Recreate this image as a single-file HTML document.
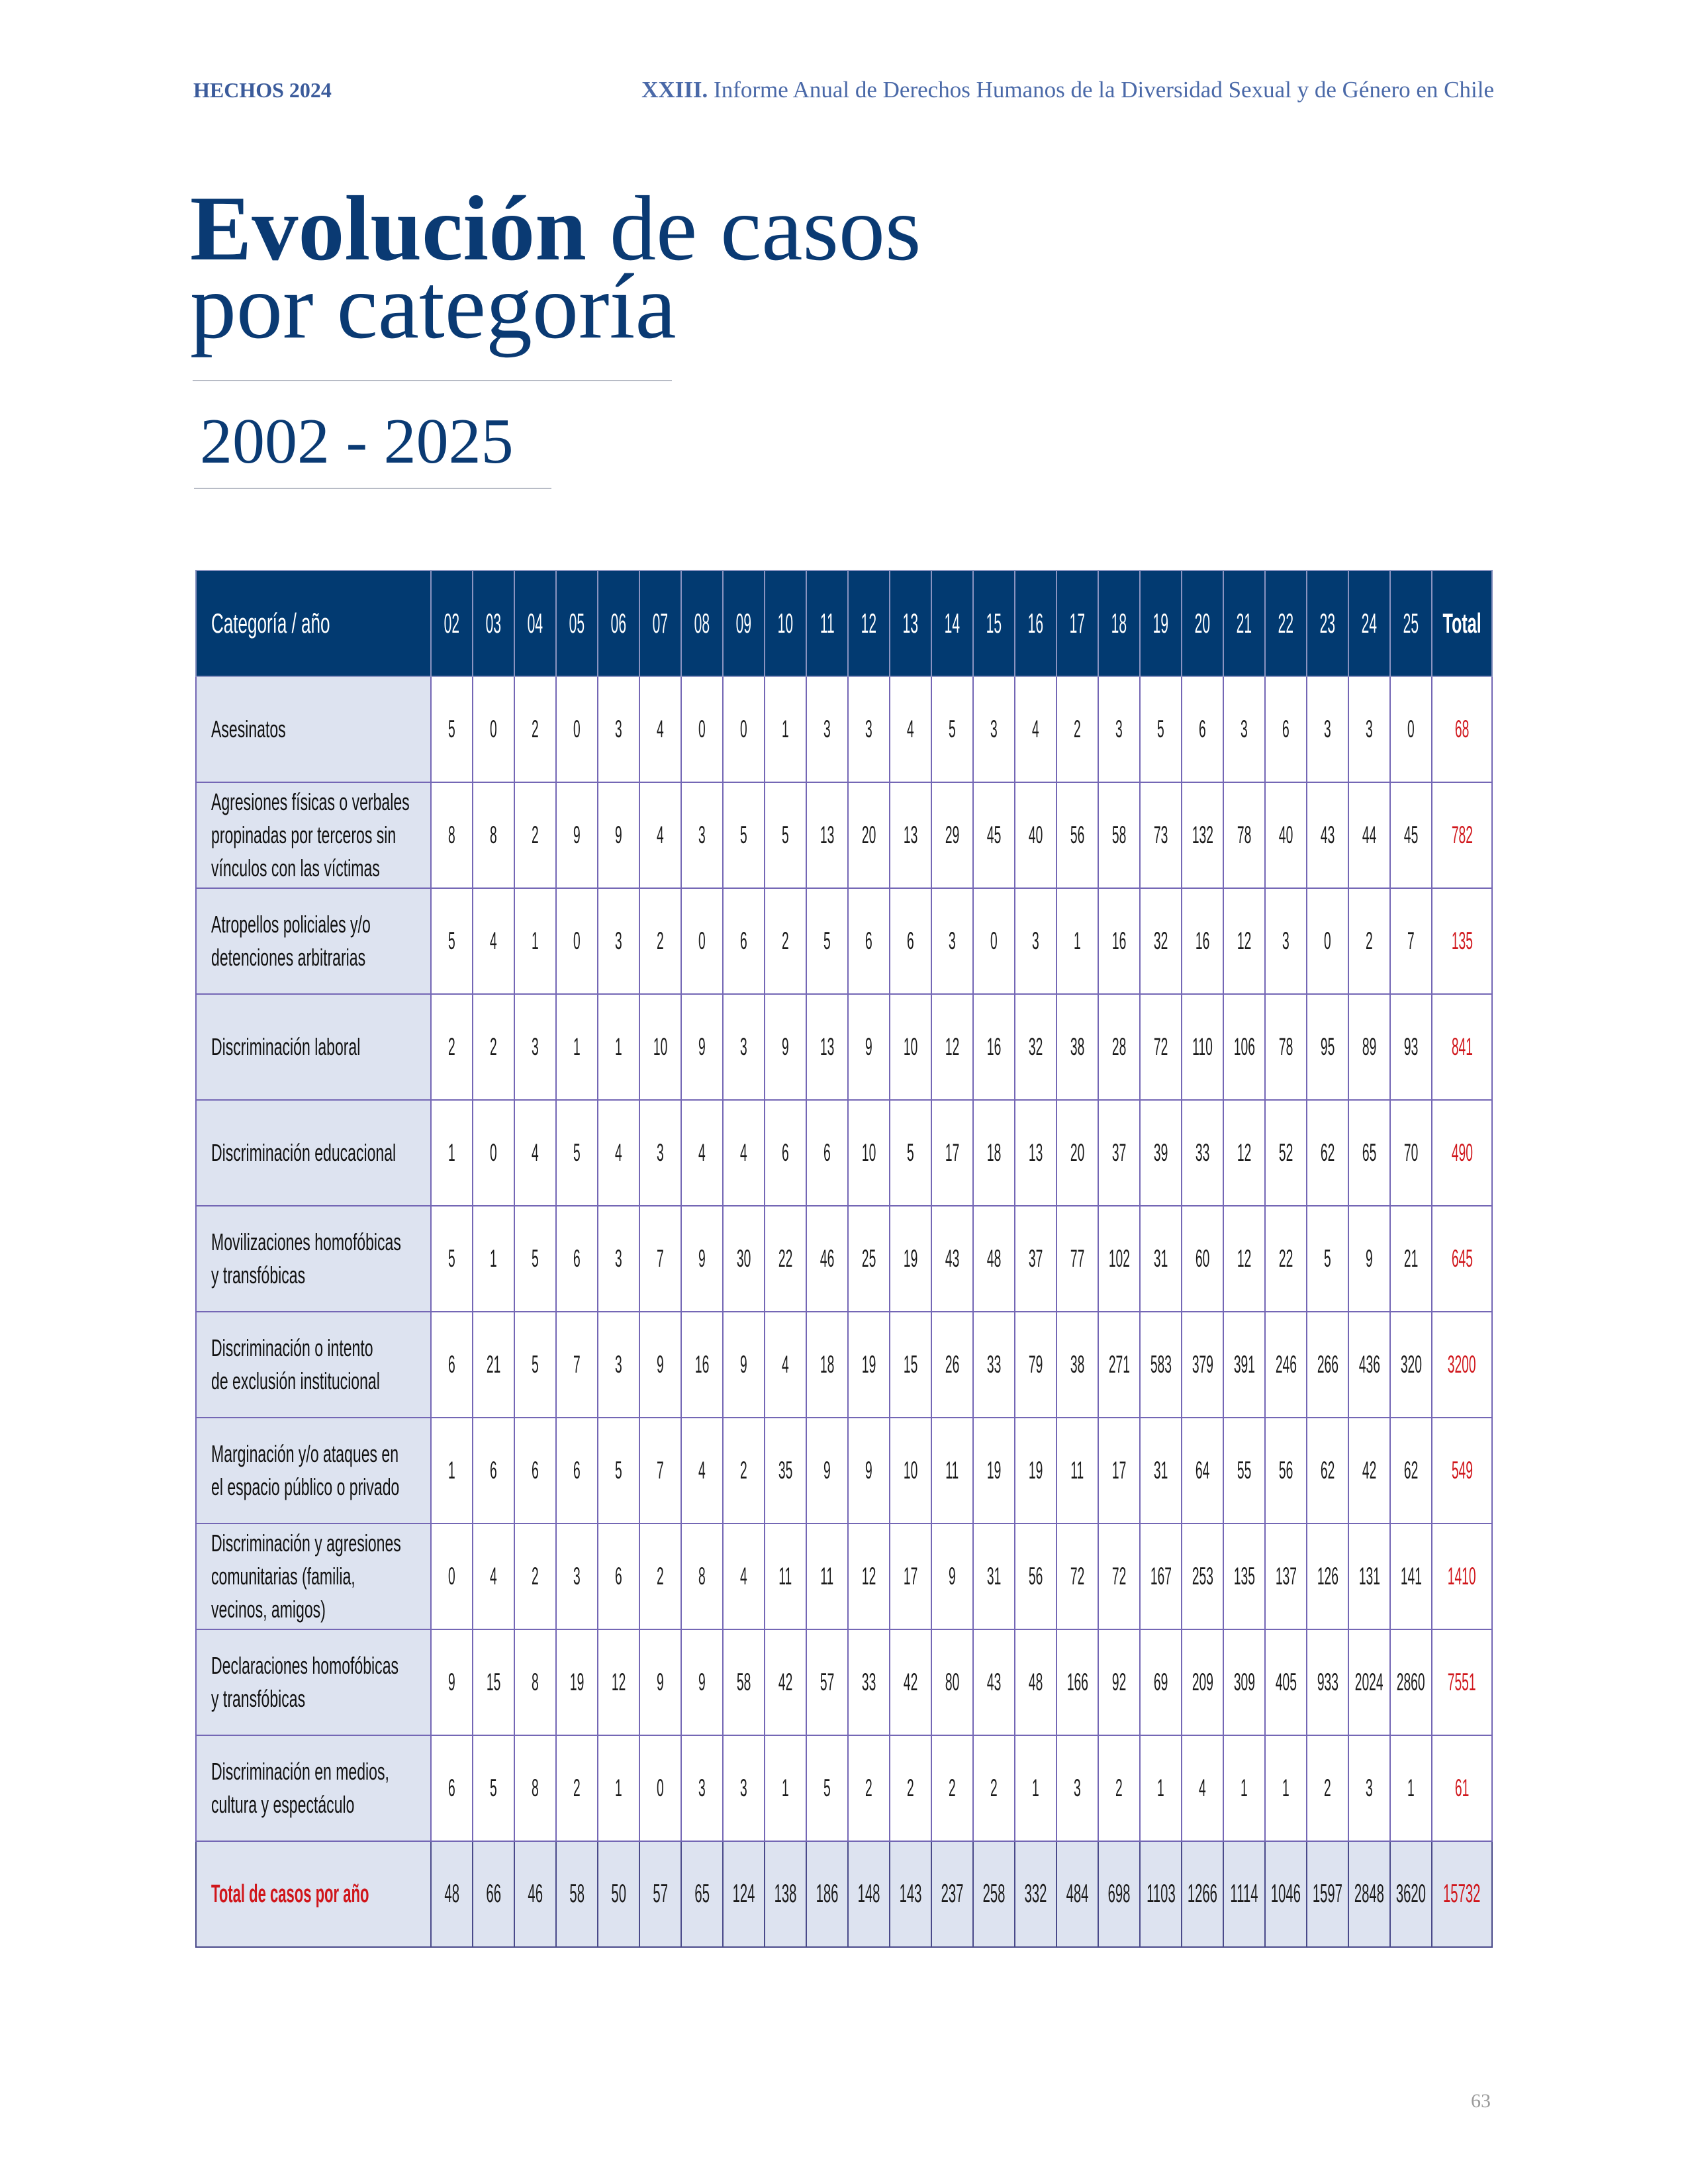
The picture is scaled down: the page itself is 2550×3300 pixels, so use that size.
<!DOCTYPE html>
<html><head><meta charset="utf-8"><style>
html,body{margin:0;padding:0;background:#fff;}
body{width:2550px;height:3300px;position:relative;overflow:hidden;font-family:"Liberation Sans",sans-serif;}
.hd1{position:absolute;left:292px;top:118px;font:bold 32px "Liberation Serif",serif;color:#3b5b9b;}
.hd2{position:absolute;right:293px;top:116px;font:35px "Liberation Serif",serif;color:#4a69a8;white-space:nowrap;}
.hd2 b{font-weight:bold}
.t1{position:absolute;left:287px;top:287px;font:140px/118px "Liberation Serif",serif;color:#0a3a73;white-space:nowrap;}
.t1 b{font-weight:bold}
.rule{position:absolute;height:2px;background:#b8bcc6;}
.yr{position:absolute;left:302px;top:611px;font:98px "Liberation Serif",serif;color:#0a3a73;}
.pg{position:absolute;left:2222px;top:3158px;font:30px "Liberation Serif",serif;color:#9a9a9a;}
table{position:absolute;left:295px;top:861px;border-collapse:collapse;table-layout:fixed;width:1958px;}
td{border:2px solid #7467b5;padding:0;text-align:center;vertical-align:middle;height:158px;overflow:visible;white-space:nowrap;font-size:37px;color:#1a1a1a;}
td i{font-style:normal;display:inline-block;transform:scaleX(0.52);margin:0 -40px;}
tr.h td{background:#023a71;color:#fff;height:158px;border-color:#8a93c0;font-size:42px;}
tr.h td i{transform:scaleX(0.5);}
td.c{background:#dde3f0;text-align:left;padding-left:22px;font-size:36px;line-height:50px;color:#111;}
td.c i{transform:scaleX(0.64);transform-origin:left center;margin:0;}
tr.h td.c{background:#023a71;color:#fff;font-size:42px;}
tr.h td.c i{transform:scaleX(0.62);}
td.tt{color:#d0161b;}
tr.h td.tt{color:#fff;font-weight:bold;}
tr.h td.tt i{transform:scaleX(0.6);}
tr.f td{background:#dde3f0;border-color:#4a4a8a;font-size:39px;}
tr.f td.c{color:#d0161b;font-weight:bold;font-size:38px;}
tr.f td.c i{transform:scaleX(0.58);}
</style></head><body>
<div class="hd1">HECHOS 2024</div>
<div class="hd2"><b>XXIII.</b> Informe Anual de Derechos Humanos de la Diversidad Sexual y de Género en Chile</div>
<div class="t1"><b>Evolución</b> de casos<br>por categoría</div>
<div class="rule" style="left:291px;top:574px;width:724px"></div>
<div class="yr">2002 - 2025</div>
<div class="rule" style="left:293px;top:737px;width:540px"></div>
<table>
<colgroup><col style="width:355px"><col span="24" style="width:63px"><col style="width:91px"></colgroup>
<tr class="h"><td class="c"><i>Categoría / año</i></td><td><i>02</i></td><td><i>03</i></td><td><i>04</i></td><td><i>05</i></td><td><i>06</i></td><td><i>07</i></td><td><i>08</i></td><td><i>09</i></td><td><i>10</i></td><td><i>11</i></td><td><i>12</i></td><td><i>13</i></td><td><i>14</i></td><td><i>15</i></td><td><i>16</i></td><td><i>17</i></td><td><i>18</i></td><td><i>19</i></td><td><i>20</i></td><td><i>21</i></td><td><i>22</i></td><td><i>23</i></td><td><i>24</i></td><td><i>25</i></td><td class="tt"><i>Total</i></td></tr>
<tr><td class="c"><i>Asesinatos</i></td><td><i>5</i></td><td><i>0</i></td><td><i>2</i></td><td><i>0</i></td><td><i>3</i></td><td><i>4</i></td><td><i>0</i></td><td><i>0</i></td><td><i>1</i></td><td><i>3</i></td><td><i>3</i></td><td><i>4</i></td><td><i>5</i></td><td><i>3</i></td><td><i>4</i></td><td><i>2</i></td><td><i>3</i></td><td><i>5</i></td><td><i>6</i></td><td><i>3</i></td><td><i>6</i></td><td><i>3</i></td><td><i>3</i></td><td><i>0</i></td><td class="tt"><i>68</i></td></tr>
<tr><td class="c"><i>Agresiones físicas o verbales<br>propinadas por terceros sin<br>vínculos con las víctimas</i></td><td><i>8</i></td><td><i>8</i></td><td><i>2</i></td><td><i>9</i></td><td><i>9</i></td><td><i>4</i></td><td><i>3</i></td><td><i>5</i></td><td><i>5</i></td><td><i>13</i></td><td><i>20</i></td><td><i>13</i></td><td><i>29</i></td><td><i>45</i></td><td><i>40</i></td><td><i>56</i></td><td><i>58</i></td><td><i>73</i></td><td><i>132</i></td><td><i>78</i></td><td><i>40</i></td><td><i>43</i></td><td><i>44</i></td><td><i>45</i></td><td class="tt"><i>782</i></td></tr>
<tr><td class="c"><i>Atropellos policiales y/o<br>detenciones arbitrarias</i></td><td><i>5</i></td><td><i>4</i></td><td><i>1</i></td><td><i>0</i></td><td><i>3</i></td><td><i>2</i></td><td><i>0</i></td><td><i>6</i></td><td><i>2</i></td><td><i>5</i></td><td><i>6</i></td><td><i>6</i></td><td><i>3</i></td><td><i>0</i></td><td><i>3</i></td><td><i>1</i></td><td><i>16</i></td><td><i>32</i></td><td><i>16</i></td><td><i>12</i></td><td><i>3</i></td><td><i>0</i></td><td><i>2</i></td><td><i>7</i></td><td class="tt"><i>135</i></td></tr>
<tr><td class="c"><i>Discriminación laboral</i></td><td><i>2</i></td><td><i>2</i></td><td><i>3</i></td><td><i>1</i></td><td><i>1</i></td><td><i>10</i></td><td><i>9</i></td><td><i>3</i></td><td><i>9</i></td><td><i>13</i></td><td><i>9</i></td><td><i>10</i></td><td><i>12</i></td><td><i>16</i></td><td><i>32</i></td><td><i>38</i></td><td><i>28</i></td><td><i>72</i></td><td><i>110</i></td><td><i>106</i></td><td><i>78</i></td><td><i>95</i></td><td><i>89</i></td><td><i>93</i></td><td class="tt"><i>841</i></td></tr>
<tr><td class="c"><i>Discriminación educacional</i></td><td><i>1</i></td><td><i>0</i></td><td><i>4</i></td><td><i>5</i></td><td><i>4</i></td><td><i>3</i></td><td><i>4</i></td><td><i>4</i></td><td><i>6</i></td><td><i>6</i></td><td><i>10</i></td><td><i>5</i></td><td><i>17</i></td><td><i>18</i></td><td><i>13</i></td><td><i>20</i></td><td><i>37</i></td><td><i>39</i></td><td><i>33</i></td><td><i>12</i></td><td><i>52</i></td><td><i>62</i></td><td><i>65</i></td><td><i>70</i></td><td class="tt"><i>490</i></td></tr>
<tr><td class="c"><i>Movilizaciones homofóbicas<br>y transfóbicas</i></td><td><i>5</i></td><td><i>1</i></td><td><i>5</i></td><td><i>6</i></td><td><i>3</i></td><td><i>7</i></td><td><i>9</i></td><td><i>30</i></td><td><i>22</i></td><td><i>46</i></td><td><i>25</i></td><td><i>19</i></td><td><i>43</i></td><td><i>48</i></td><td><i>37</i></td><td><i>77</i></td><td><i>102</i></td><td><i>31</i></td><td><i>60</i></td><td><i>12</i></td><td><i>22</i></td><td><i>5</i></td><td><i>9</i></td><td><i>21</i></td><td class="tt"><i>645</i></td></tr>
<tr><td class="c"><i>Discriminación o intento<br>de exclusión institucional</i></td><td><i>6</i></td><td><i>21</i></td><td><i>5</i></td><td><i>7</i></td><td><i>3</i></td><td><i>9</i></td><td><i>16</i></td><td><i>9</i></td><td><i>4</i></td><td><i>18</i></td><td><i>19</i></td><td><i>15</i></td><td><i>26</i></td><td><i>33</i></td><td><i>79</i></td><td><i>38</i></td><td><i>271</i></td><td><i>583</i></td><td><i>379</i></td><td><i>391</i></td><td><i>246</i></td><td><i>266</i></td><td><i>436</i></td><td><i>320</i></td><td class="tt"><i>3200</i></td></tr>
<tr><td class="c"><i>Marginación y/o ataques en<br>el espacio público o privado</i></td><td><i>1</i></td><td><i>6</i></td><td><i>6</i></td><td><i>6</i></td><td><i>5</i></td><td><i>7</i></td><td><i>4</i></td><td><i>2</i></td><td><i>35</i></td><td><i>9</i></td><td><i>9</i></td><td><i>10</i></td><td><i>11</i></td><td><i>19</i></td><td><i>19</i></td><td><i>11</i></td><td><i>17</i></td><td><i>31</i></td><td><i>64</i></td><td><i>55</i></td><td><i>56</i></td><td><i>62</i></td><td><i>42</i></td><td><i>62</i></td><td class="tt"><i>549</i></td></tr>
<tr><td class="c"><i>Discriminación y agresiones<br>comunitarias (familia,<br>vecinos, amigos)</i></td><td><i>0</i></td><td><i>4</i></td><td><i>2</i></td><td><i>3</i></td><td><i>6</i></td><td><i>2</i></td><td><i>8</i></td><td><i>4</i></td><td><i>11</i></td><td><i>11</i></td><td><i>12</i></td><td><i>17</i></td><td><i>9</i></td><td><i>31</i></td><td><i>56</i></td><td><i>72</i></td><td><i>72</i></td><td><i>167</i></td><td><i>253</i></td><td><i>135</i></td><td><i>137</i></td><td><i>126</i></td><td><i>131</i></td><td><i>141</i></td><td class="tt"><i>1410</i></td></tr>
<tr><td class="c"><i>Declaraciones homofóbicas<br>y transfóbicas</i></td><td><i>9</i></td><td><i>15</i></td><td><i>8</i></td><td><i>19</i></td><td><i>12</i></td><td><i>9</i></td><td><i>9</i></td><td><i>58</i></td><td><i>42</i></td><td><i>57</i></td><td><i>33</i></td><td><i>42</i></td><td><i>80</i></td><td><i>43</i></td><td><i>48</i></td><td><i>166</i></td><td><i>92</i></td><td><i>69</i></td><td><i>209</i></td><td><i>309</i></td><td><i>405</i></td><td><i>933</i></td><td><i>2024</i></td><td><i>2860</i></td><td class="tt"><i>7551</i></td></tr>
<tr><td class="c"><i>Discriminación en medios,<br>cultura y espectáculo</i></td><td><i>6</i></td><td><i>5</i></td><td><i>8</i></td><td><i>2</i></td><td><i>1</i></td><td><i>0</i></td><td><i>3</i></td><td><i>3</i></td><td><i>1</i></td><td><i>5</i></td><td><i>2</i></td><td><i>2</i></td><td><i>2</i></td><td><i>2</i></td><td><i>1</i></td><td><i>3</i></td><td><i>2</i></td><td><i>1</i></td><td><i>4</i></td><td><i>1</i></td><td><i>1</i></td><td><i>2</i></td><td><i>3</i></td><td><i>1</i></td><td class="tt"><i>61</i></td></tr>
<tr class="f"><td class="c"><i>Total de casos por año</i></td><td><i>48</i></td><td><i>66</i></td><td><i>46</i></td><td><i>58</i></td><td><i>50</i></td><td><i>57</i></td><td><i>65</i></td><td><i>124</i></td><td><i>138</i></td><td><i>186</i></td><td><i>148</i></td><td><i>143</i></td><td><i>237</i></td><td><i>258</i></td><td><i>332</i></td><td><i>484</i></td><td><i>698</i></td><td><i>1103</i></td><td><i>1266</i></td><td><i>1114</i></td><td><i>1046</i></td><td><i>1597</i></td><td><i>2848</i></td><td><i>3620</i></td><td class="tt"><i>15732</i></td></tr>
</table>
<div class="pg">63</div>
</body></html>
